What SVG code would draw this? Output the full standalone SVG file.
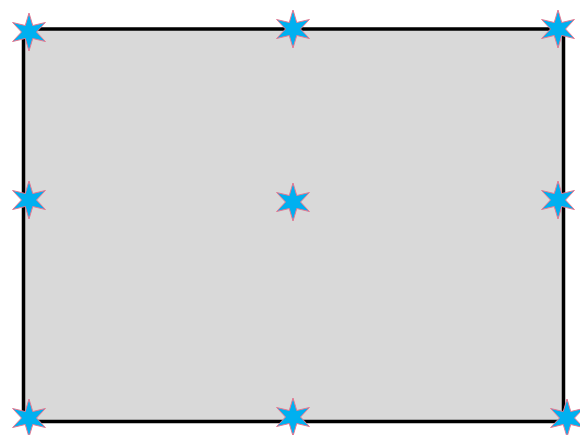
<svg xmlns="http://www.w3.org/2000/svg" xmlns:xlink="http://www.w3.org/1999/xlink" width="580" height="435" viewBox="0 0 580 435">
<defs>
<style>
.frame{fill:#d9d9d9;stroke:#000;stroke-width:3.5}
.star{fill:#00b0f0;stroke:#e87890;stroke-width:1}
</style>
<path id="star6" class="star" d="M0,-19 L3.75,-6.5 L16.45,-9.5 L7.5,0 L16.45,9.5 L3.75,6.5 L0,19 L-3.75,6.5 L-16.45,9.5 L-7.5,0 L-16.45,-9.5 L-3.75,-6.5 Z"/>
</defs>
<g id="frame"><rect class="frame" x="23.5" y="29" width="540" height="392.5"/></g>
<g id="connectors"></g>
<g id="star-tl"><use xlink:href="#star6" href="#star6" x="29" y="32"/></g>
<g id="star-tm"><use xlink:href="#star6" href="#star6" x="293" y="29"/></g>
<g id="star-tr"><use xlink:href="#star6" href="#star6" x="558" y="29"/></g>
<g id="star-ml"><use xlink:href="#star6" href="#star6" x="29" y="200"/></g>
<g id="star-mm"><use xlink:href="#star6" href="#star6" x="293" y="202"/></g>
<g id="star-mr"><use xlink:href="#star6" href="#star6" x="558" y="200"/></g>
<g id="star-bl"><use xlink:href="#star6" href="#star6" x="29" y="418"/></g>
<g id="star-bm"><use xlink:href="#star6" href="#star6" x="293" y="417"/></g>
<g id="star-br"><use xlink:href="#star6" href="#star6" x="567" y="418"/></g>
</svg>
